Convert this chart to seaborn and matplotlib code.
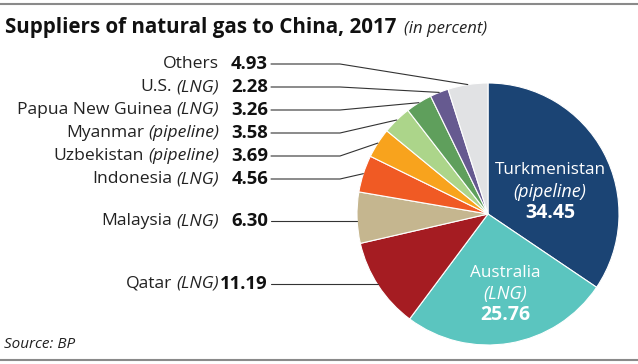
import numpy as np
import matplotlib
matplotlib.use("Agg")
import matplotlib.pyplot as plt
import seaborn as sns

sns.set_theme(style="white")
plt.rcParams['font.family'] = ['Open Sans', 'DejaVu Sans']

# ---- data ----
names = ["Turkmenistan", "Australia", "Qatar", "Malaysia", "Indonesia",
         "Uzbekistan", "Myanmar", "Papua New Guinea", "U.S.", "Others"]
kinds = ["pipeline", "LNG", "LNG", "LNG", "LNG",
         "pipeline", "pipeline", "LNG", "LNG", ""]
shares = [34.45, 25.76, 11.19, 6.30, 4.56, 3.69, 3.58, 3.26, 2.28, 4.93]
colors = ["#1b4474", "#5bc5bf", "#a51c22", "#c5b68f", "#f05a24",
          "#f8a31d", "#acd58a", "#5f9f5c", "#665a90", "#e1e2e4"]

W, H = 638, 364
fig = plt.figure(figsize=(W / 100, H / 100), dpi=100)

# pie axes
cx, cy, r = 488, 214, 131
pa = fig.add_axes([(cx - r) / W, (H - cy - r) / H, 2 * r / W, 2 * r / H])
wedges, _ = pa.pie(shares, colors=colors, startangle=90, counterclock=False,
                   wedgeprops=dict(edgecolor="white", linewidth=0.8))
pa.set_aspect("auto")
pa.set_xlim(-1, 1)
pa.set_ylim(-1, 1)
pa.axis("off")

# overlay axes in pixel coordinates (y down), above the pie
ov = fig.add_axes([0, 0, 1, 1])
ov.set_xlim(0, W)
ov.set_ylim(H, 0)
ov.axis("off")
ov.set_zorder(5)

renderer = fig.canvas.get_renderer()

def to_px(x, y):
    dx, dy = pa.transData.transform((x, y))
    return dx, H - dy

def width(t):
    return t.get_window_extent(renderer).width

# header / footer
ov.plot([0, W], [4, 4], color="#8a8a8a", lw=1.5, solid_capstyle="butt")
ov.plot([0, W], [360, 360], color="#8a8a8a", lw=1.5, solid_capstyle="butt")
t = ov.text(5, 28, "Suppliers of natural gas to China, 2017", fontsize=14.8,
            fontweight="bold", color="#111111", va="center", ha="left")
ov.text(5 + width(t) + 8, 29, "(in percent)", fontsize=12, fontstyle="italic",
        color="#222222", va="center", ha="left")
ov.text(4, 345, "Source: BP", fontsize=11, fontstyle="italic",
        color="#222222", va="center", ha="left")

# outside labels
label_y = {"Others": 64, "U.S.": 87, "Papua New Guinea": 110, "Myanmar": 133,
           "Uzbekistan": 156, "Indonesia": 179, "Malaysia": 221, "Qatar": 284}
straight = ("Malaysia", "Qatar")
lab_fs = 12.6
val_fs = 13.3
for w, nm, kd, val in zip(wedges, names, kinds, shares):
    if nm not in label_y:
        continue
    y = label_y[nm]
    ang = np.deg2rad((w.theta1 + w.theta2) / 2)
    px, py = to_px(np.cos(ang), np.sin(ang))
    xr = 219
    if kd:
        ti = ov.text(xr, y, f"({kd})", fontsize=lab_fs, fontstyle="italic",
                     color="#222222", ha="right", va="center")
        xr -= width(ti) + 4
    ov.text(xr, y, nm, fontsize=lab_fs, color="#222222", ha="right", va="center")
    ov.text(268, y, f"{val:.2f}", fontsize=val_fs, fontweight="bold",
            color="#111111", ha="right", va="center")
    if nm in straight:
        ov.plot([271, px], [y, y], color="#333333", lw=0.8)
    else:
        ov.plot([271, 340, px], [y, y, py], color="#333333", lw=0.8)

# inside labels
inside = {"Turkmenistan": (550, [170, 192, 213]), "Australia": (505, [273, 294, 315])}
for nm, kd, val in zip(names, kinds, shares):
    if nm not in inside:
        continue
    x, ys = inside[nm]
    ov.text(x, ys[0], nm, fontsize=12.3, color="white", ha="center", va="center")
    ov.text(x, ys[1], f"({kd})", fontsize=13, fontstyle="italic",
            color="white", ha="center", va="center")
    ov.text(x, ys[2], f"{val:.2f}", fontsize=14, fontweight="bold",
            color="white", ha="center", va="center")

fig.savefig("out.png", dpi=100)
